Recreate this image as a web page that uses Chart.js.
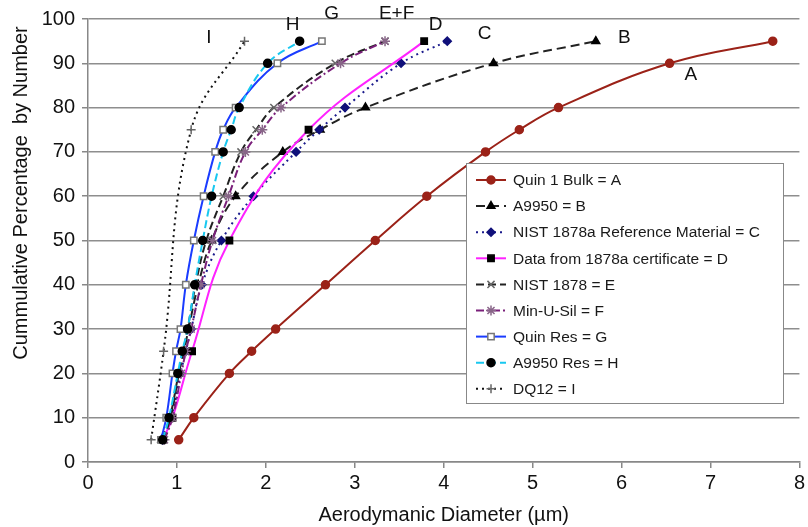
<!DOCTYPE html>
<html>
<head>
<meta charset="utf-8">
<script src="https://cdn.jsdelivr.net/npm/chart.js@4/dist/chart.umd.min.js"></script>
<style>
    html, body { margin: 0; padding: 0; background: #fff; }
    #wrap { width: 808px; height: 527px; }
</style>
</head>
<body>
<div id="wrap"><canvas id="size_chart" width="808" height="527"></canvas></div>
<script>
// cumulative % levels (y) and aerodynamic diameters (x, µm)
const levels = [5, 10, 20, 25, 30, 40, 50, 60, 70, 75, 80, 90, 95];
const quinBulk = [1.02, 1.19, 1.59, 1.84, 2.11, 2.67, 3.23, 3.81, 4.47, 4.85, 5.29, 6.54, 7.70];
const a9950 = [0.83, 0.92, 1.02, 1.08, 1.13, 1.24, 1.39, 1.66, 2.19, 2.61, 3.12, 4.56, 5.71];
const nist1878a = [0.84, 0.94, 1.04, 1.10, 1.16, 1.28, 1.50, 1.86, 2.34, 2.60, 2.89, 3.52, 4.04];
const certLevels = [5, 10, 25, 50, 75, 95];
const cert1878a = [0.84, 0.95, 1.17, 1.59, 2.48, 3.78];
const nist1878 = [0.84, 0.93, 1.02, 1.07, 1.12, 1.21, 1.33, 1.52, 1.72, 1.89, 2.09, 2.78, 3.34];
const minUSil = [0.86, 0.95, 1.05, 1.10, 1.16, 1.27, 1.40, 1.58, 1.77, 1.96, 2.17, 2.84, 3.34];
const quinRes = [0.82, 0.88, 0.95, 0.99, 1.04, 1.10, 1.19, 1.30, 1.43, 1.52, 1.66, 2.13, 2.63];
const a9950Res = [0.84, 0.91, 1.01, 1.06, 1.12, 1.20, 1.29, 1.39, 1.52, 1.61, 1.70, 2.02, 2.38];
const dq12Levels = [5, 25, 75, 95];
const dq12 = [0.71, 0.85, 1.16, 1.76];

const seriesNames = [
    'Quin 1 Bulk = A',
    'A9950 = B',
    'NIST 1878a Reference Material = C',
    'Data from 1878a certificate = D',
    'NIST 1878 = E',
    'Min-U-Sil = F',
    'Quin Res = G',
    'A9950 Res = H',
    'DQ12 = I'
];

// curve end letters (data coords)
const tagText = ['I', 'H', 'G', 'E+F', 'D', 'C', 'B', 'A'];
const tagX = [1.36, 2.30, 2.74, 3.47, 3.91, 4.46, 6.03, 6.78];
const tagY = [95.8, 98.8, 101.1, 101.1, 98.8, 96.6, 95.8, 87.5];

const yTitle = 'Cummulative Percentage  by Number';
const FONT = "'Liberation Sans', Arial, sans-serif";

function pts(xs, ys) {
    return xs.map((x, i) => ({ x: x, y: ys[i] }));
}

function series(i, xs, ys, color, dash, style, fill, stroke, radius) {
    return {
        label: seriesNames[i],
        data: pts(xs, ys),
        showLine: true,
        borderColor: color,
        borderWidth: 2,
        borderDash: dash,
        tension: 0.4,
        pointStyle: style,
        pointRadius: radius,
        pointBackgroundColor: fill,
        pointBorderColor: stroke,
        pointBorderWidth: 1.5,
        order: 9 - i
    };
}

const datasets = [
    series(0, quinBulk, levels, '#9b2218', [], 'circle', '#9b2218', '#9b2218', 4),
    series(1, a9950, levels, '#222222', [9, 5], 'triangle', '#000000', '#000000', 4.5),
    series(2, nist1878a, levels, '#1a1a8c', [2, 4], 'rectRot', '#10107a', '#10107a', 4),
    series(3, cert1878a, certLevels, '#ff22ff', [], 'rect', '#000000', '#000000', 4.5),
    series(4, nist1878, levels, '#222222', [8, 4], 'crossRot', '#666666', '#666666', 5),
    series(5, minUSil, levels, '#7a1f7a', [8, 3, 2, 3], 'star', '#886688', '#886688', 5),
    series(6, quinRes, levels, '#1a3cff', [], 'rect', '#ffffff', '#777777', 4.5),
    series(7, a9950Res, levels, '#18c8f0', [8, 4], 'circle', '#000000', '#000000', 4),
    series(8, dq12, dq12Levels, '#111111', [2, 4], 'cross', '#666666', '#666666', 4.5)
];

// letters at the ends of the curves + the y axis title (sits high, like the original)
const tagPlugin = {
    id: 'tags',
    afterDatasetsDraw(chart) {
        const ctx = chart.ctx;
        const xs = chart.scales.x, ys = chart.scales.y;
        ctx.save();
        ctx.font = '19px ' + FONT;
        ctx.fillStyle = '#111';
        ctx.textAlign = 'center';
        ctx.textBaseline = 'middle';
        tagText.forEach((t, i) => {
            ctx.fillText(t, xs.getPixelForValue(tagX[i]), ys.getPixelForValue(tagY[i]));
        });

        ctx.translate(21, 193);
        ctx.rotate(-Math.PI / 2);
        ctx.font = '20px ' + FONT;
        ctx.fillText(yTitle, 0, 0);
        ctx.restore();
    }
};

// boxed legend sitting inside the plot
const boxLegend = {
    id: 'boxLegend',
    afterDraw(chart) {
        const ctx = chart.ctx;
        const left = 466, top = 163, w = 317, h = 240;
        ctx.save();
        ctx.fillStyle = '#fff';
        ctx.fillRect(left, top, w, h);
        ctx.strokeStyle = '#888';
        ctx.lineWidth = 1;
        ctx.strokeRect(left + 0.5, top + 0.5, w, h);
        chart.data.datasets.forEach((ds, i) => {
            const y = top + 17 + i * 26.1;
            ctx.strokeStyle = ds.borderColor;
            ctx.lineWidth = 2;
            ctx.setLineDash(ds.borderDash);
            ctx.beginPath();
            ctx.moveTo(476, y);
            ctx.lineTo(506, y);
            ctx.stroke();
            ctx.setLineDash([]);
            ctx.fillStyle = ds.pointBackgroundColor;
            ctx.strokeStyle = ds.pointBorderColor;
            ctx.lineWidth = ds.pointBorderWidth;
            Chart.helpers.drawPoint(ctx, {
                pointStyle: ds.pointStyle,
                radius: ds.pointRadius,
                rotation: 0,
                borderWidth: ds.pointBorderWidth
            }, 491, y);
            ctx.fillStyle = '#1a1a1a';
            ctx.font = '15.5px ' + FONT;
            ctx.textAlign = 'left';
            ctx.textBaseline = 'middle';
            ctx.fillText(ds.label, 513, y + 1);
        });
        ctx.restore();
    }
};

var config = {
    type: 'scatter',
    data: { datasets: datasets },
    options: {
        responsive: false,
        animation: false,
        layout: { padding: { top: 18, right: 5, left: 6, bottom: 0 } },
        plugins: {
            legend: { display: false },
            tooltip: { enabled: false }
        },
        scales: {
            x: {
                type: 'linear',
                min: 0,
                max: 8,
                afterFit: (s) => { s.height = 65; },
                ticks: { stepSize: 1, color: '#111', padding: 3, font: { family: FONT, size: 20 } },
                grid: { drawOnChartArea: false, drawTicks: true, tickLength: 6, tickColor: '#888', lineWidth: 1.5 },
                border: { display: true, color: '#888', width: 1.5 },
                title: {
                    display: true,
                    text: 'Aerodymanic Diameter (µm)',
                    color: '#111',
                    padding: { top: 0, bottom: 0 },
                    font: { family: FONT, size: 20 }
                }
            },
            y: {
                min: 0,
                max: 100,
                afterFit: (s) => { s.width = 82; },
                ticks: { stepSize: 10, color: '#111', padding: 7, font: { family: FONT, size: 20 } },
                grid: { color: '#8e8e8e', lineWidth: 1.5, tickLength: 6, tickColor: '#888' },
                border: { display: true, color: '#888', width: 1.5 }
            }
        }
    },
    plugins: [tagPlugin, boxLegend]
};

function plotSizes() {
    var ctx = document.getElementById('size_chart').getContext('2d');
    window.size_chart = new Chart(ctx, config);
}

plotSizes();
</script>
</body>
</html>
